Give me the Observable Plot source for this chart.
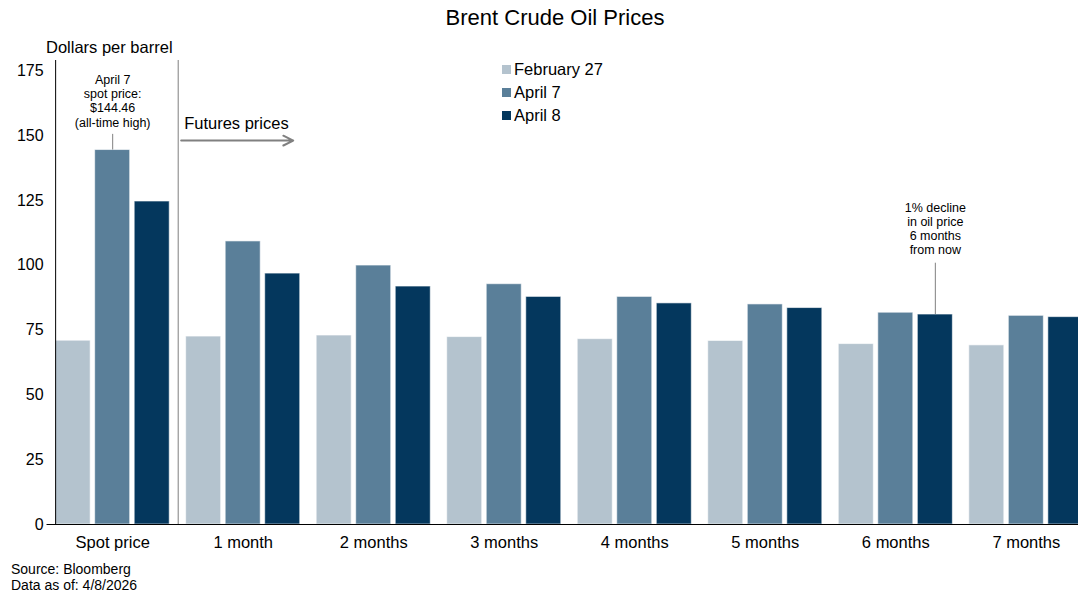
<!DOCTYPE html>
<html>
<head>
<meta charset="utf-8">
<script src="https://cdn.jsdelivr.net/npm/d3@7"></script>
<script src="https://cdn.jsdelivr.net/npm/@observablehq/plot@0.6"></script>
<style>
html,body{margin:0;padding:0;background:#fff;overflow:hidden;}
#wrap{position:relative;width:1078px;height:595px;overflow:hidden;font-family:"Liberation Sans",Arial,sans-serif;color:#000;}
#chart{position:absolute;left:0;top:0;width:1092px;}
#chart svg{max-width:none !important;width:1092px;height:560px;}
.title{position:absolute;left:0;width:1110px;top:7px;text-align:center;font-size:22px;line-height:22px;}
.ylab{position:absolute;left:46px;top:39px;font-size:16.5px;line-height:16.5px;white-space:nowrap;}
.legend{position:absolute;left:502px;top:57.6px;font-size:16.5px;}
.legend .row{display:flex;align-items:center;height:23.33px;line-height:23.33px;white-space:nowrap;}
.legend .sw{width:9px;height:9px;margin-right:3px;flex:none;}
.foot{position:absolute;left:11px;top:561px;font-size:14px;line-height:16px;}
</style>
</head>
<body>
<div id="wrap">
  <div id="chart"></div>
  <div class="title">Brent Crude Oil Prices</div>
  <div class="ylab">Dollars per barrel</div>
  <div class="legend" id="legend"></div>
  <div class="foot">Source: Bloomberg<br>Data as of: 4/8/2026</div>
</div>
<script>
const categories = ["Spot price","1 month","2 months","3 months","4 months","5 months","6 months","7 months"];
const seriesNames = ["February 27","April 7","April 8"];
const feb27 = [70.9, 72.5, 72.9, 72.3, 71.5, 70.8, 69.6, 69.1];
const apr7  = [144.46, 109.2, 99.9, 92.7, 87.8, 84.9, 81.7, 80.5];
const apr8  = [124.6, 96.8, 91.8, 87.8, 85.3, 83.5, 81.0, 80.0];
const colors = ["#b4c3ce", "#5a7f99", "#04375d"];
const yTicks = [0, 25, 50, 75, 100, 125, 150, 175];
const yMax = 179;

const seriesValues = [feb27, apr7, apr8];
const rows = categories.flatMap((c, i) =>
  seriesNames.map((s, j) => ({cat: c, series: s, value: seriesValues[j][i]})));

const notes = [
  {fx: "Spot price", x: "April 7", text: "April 7\nspot price:\n$144.46\n(all-time high)", textY: 153.5, lineFrom: apr7[0], lineTo: 150.5},
  {fx: "6 months", x: "April 8", text: "1% decline\nin oil price\n6 months\nfrom now", textY: 104.2, lineFrom: apr8[6], lineTo: 100.8}
];
const futures = [{fx: "1 month", xStart: "February 27", xEnd: "April 8", label: "Futures prices", textY: 154.8, arrowY: 148.1}];
const separator = [{fx: "Spot price", x: "April 8"}];

const chart = Plot.plot({
  width: 1092,
  height: 560,
  marginTop: 60,
  marginBottom: 36,
  marginLeft: 46,
  marginRight: 0,
  style: {fontFamily: '"Liberation Sans", Arial, sans-serif', color: "#000", background: "transparent", maxWidth: "none"},
  fx: {domain: categories, paddingInner: 0.126, paddingOuter: 0.07, round: false},
  x: {domain: seriesNames, paddingInner: 0.114, paddingOuter: 0, round: false, axis: null},
  y: {domain: [0, yMax]},
  color: {domain: seriesNames, range: colors},
  marks: [
    Plot.barY(rows, {fx: "cat", x: "series", y: "value", fill: "series", stroke: "#ffffff", strokeWidth: 1, strokeOpacity: 0.6}),
    Plot.ruleY([0], {insetLeft: -8.6, insetRight: -8.6, stroke: "#000", strokeWidth: 1.2}),
    Plot.frame({anchor: "left", facetAnchor: "left", stroke: "#000"}),
    Plot.ruleX(separator, {fx: "fx", x: "x", y1: 0, y2: yMax, dx: 26, stroke: "#7f7f7f"}),
    Plot.ruleX(notes, {fx: "fx", x: "x", y1: "lineFrom", y2: "lineTo", stroke: "#808080"}),
    Plot.text(notes, {fx: "fx", x: "x", y: "textY", text: "text", lineAnchor: "bottom", lineHeight: 1.144, fontSize: 12.5, fill: "#000"}),
    Plot.text(futures, {fx: "fx", x: "xStart", y: "textY", text: "label", textAnchor: "start", dx: -19.5, fontSize: 16.5, fill: "#000"}),
    Plot.arrow(futures, {fx: "fx", x1: "xStart", x2: "xEnd", y1: "arrowY", y2: "arrowY", dx: -5, insetStart: -17.5, insetEnd: -15.5, stroke: "#808080", strokeWidth: 2, headLength: 8.25, headAngle: 53}),
    Plot.axisY({ticks: yTicks, tickSize: 0, tickPadding: 12, fontSize: 16, label: null}),
    Plot.axisFx({anchor: "bottom", tickSize: 0, tickPadding: 12, fontSize: 16.5, label: null})
  ]
});
document.getElementById("chart").appendChild(chart);

const legend = document.getElementById("legend");
seriesNames.forEach((s, i) => {
  const row = document.createElement("div");
  row.className = "row";
  const sw = document.createElement("span");
  sw.className = "sw";
  sw.style.background = colors[i];
  const t = document.createElement("span");
  t.textContent = s;
  row.appendChild(sw);
  row.appendChild(t);
  legend.appendChild(row);
});
</script>
</body>
</html>
